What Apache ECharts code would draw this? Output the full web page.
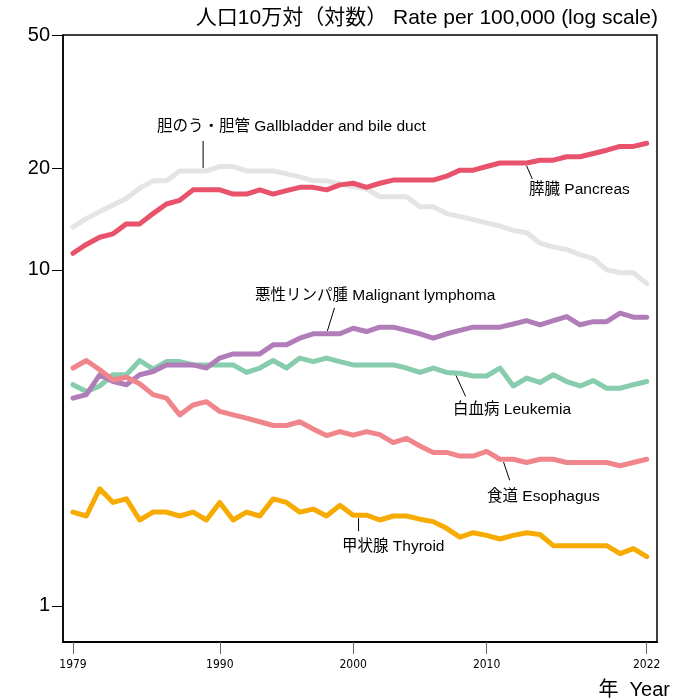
<!DOCTYPE html>
<html>
<head>
<meta charset="utf-8">
<script src="https://cdn.jsdelivr.net/npm/echarts@6/dist/echarts.min.js"></script>
<style>
  html, body { margin: 0; padding: 0; background: #fff; }
  #main { width: 684px; height: 700px; }
</style>
</head>
<body>
<div id="main"></div>
<script>
// 部位別がん死亡率（人口10万対、対数目盛）
const years = [1979, 1980, 1981, 1982, 1983, 1984, 1985, 1986, 1987, 1988,
  1989, 1990, 1991, 1992, 1993, 1994, 1995, 1996, 1997, 1998,
  1999, 2000, 2001, 2002, 2003, 2004, 2005, 2006, 2007, 2008,
  2009, 2010, 2011, 2012, 2013, 2014, 2015, 2016, 2017, 2018,
  2019, 2020, 2021, 2022]

const gallbladder = [13.4, 14.2, 14.9, 15.6, 16.3, 17.5, 18.4, 18.4, 19.7, 19.7,
  19.7, 20.3, 20.3, 19.7, 19.7, 19.7, 19.3, 18.9, 18.4, 18.4,
  18.0, 17.7, 17.4, 16.5, 16.5, 16.5, 15.4, 15.4, 14.7, 14.4,
  14.1, 13.8, 13.5, 13.1, 12.9, 12.0, 11.7, 11.5, 11.1, 10.8,
  10.0, 9.8, 9.8, 9.1]
const pancreas = [11.2, 11.9, 12.5, 12.8, 13.7, 13.7, 14.7, 15.7, 16.1, 17.3,
  17.3, 17.3, 16.8, 16.8, 17.3, 16.8, 17.2, 17.6, 17.6, 17.3,
  17.9, 18.1, 17.6, 18.1, 18.5, 18.5, 18.5, 18.5, 19.0, 19.8,
  19.8, 20.3, 20.8, 20.8, 20.8, 21.2, 21.2, 21.7, 21.7, 22.2,
  22.7, 23.3, 23.3, 23.8]
const lymphoma = [4.15, 4.25, 4.87, 4.65, 4.55, 4.87, 4.98, 5.21, 5.21, 5.21,
  5.10, 5.46, 5.62, 5.62, 5.62, 5.98, 5.98, 6.26, 6.45, 6.45,
  6.45, 6.70, 6.55, 6.75, 6.75, 6.60, 6.45, 6.26, 6.45, 6.60,
  6.75, 6.75, 6.75, 6.90, 7.06, 6.86, 7.06, 7.26, 6.86, 7.01,
  7.01, 7.43, 7.23, 7.23]
const leukemia = [4.55, 4.34, 4.51, 4.87, 4.87, 5.37, 5.06, 5.33, 5.33, 5.21,
  5.21, 5.21, 5.21, 4.95, 5.10, 5.37, 5.10, 5.46, 5.33, 5.46,
  5.33, 5.21, 5.21, 5.21, 5.21, 5.10, 4.95, 5.10, 4.95, 4.92,
  4.83, 4.83, 5.10, 4.51, 4.76, 4.62, 4.87, 4.65, 4.51, 4.68,
  4.44, 4.44, 4.55, 4.65]
const esophagus = [5.10, 5.37, 5.04, 4.70, 4.79, 4.58, 4.25, 4.15, 3.70, 3.96,
  4.05, 3.79, 3.70, 3.62, 3.53, 3.44, 3.44, 3.53, 3.36, 3.21,
  3.30, 3.22, 3.30, 3.23, 3.06, 3.15, 2.99, 2.86, 2.86, 2.79,
  2.79, 2.88, 2.73, 2.73, 2.67, 2.73, 2.73, 2.67, 2.67, 2.67,
  2.67, 2.61, 2.67, 2.73]
const thyroid = [1.90, 1.85, 2.23, 2.03, 2.08, 1.80, 1.90, 1.90, 1.85, 1.90,
  1.80, 2.03, 1.80, 1.90, 1.85, 2.08, 2.03, 1.90, 1.94, 1.85,
  1.99, 1.86, 1.86, 1.80, 1.85, 1.85, 1.81, 1.78, 1.70, 1.60,
  1.65, 1.62, 1.58, 1.62, 1.65, 1.63, 1.51, 1.51, 1.51, 1.51,
  1.51, 1.43, 1.48, 1.40]

const xTicks = [1979, 1990, 2000, 2010, 2022]
const yTicks = [1, 10, 20, 50]

const FONT = "'Liberation Sans', 'Noto Sans CJK JP', sans-serif"
const NARROW = "'Liberation Sans Narrow', 'DejaVu Sans Condensed', 'Liberation Sans', sans-serif"

// 描画順：下から
const seriesDefs = [
  { name: 'gallbladder', data: gallbladder, color: '#e4e4e4' },
  { name: 'leukemia', data: leukemia, color: '#86ccad' },
  { name: 'lymphoma', data: lymphoma, color: '#b07db9' },
  { name: 'esophagus', data: esophagus, color: '#f0868c' },
  { name: 'pancreas', data: pancreas, color: '#e8526b' },
  { name: 'thyroid', data: thyroid, color: '#f7ab00' }
]

// 注記：線上の点 at、引出線の向き d、文字の位置 t
const notes = [
  { text: '胆のう・胆管 Gallbladder and bile duct', at: [1988.75, 19.7], d: [0, -30], t: [157, 127] },
  { text: '膵臓 Pancreas', at: [2012.9, 20.8], d: [7, 16], t: [529, 190] },
  { text: '悪性リンパ腫 Malignant lymphoma', at: [1998, 6.45], d: [8, -26], t: [255, 296] },
  { text: '白血病 Leukemia', at: [2007.6, 4.95], d: [11, 24], t: [453, 410] },
  { text: '食道 Esophagus', at: [2011.2, 2.73], d: [7, 21], t: [487, 497] },
  { text: '甲状腺 Thyroid', at: [2000.4, 1.86], d: [0, 16], t: [342, 547] }
]

const chart = echarts.init(document.getElementById('main'))

chart.setOption({
  animation: false,
  grid: {
    left: 63, top: 35, right: 27, bottom: 58,
    show: true, borderColor: '#000', borderWidth: 1.5
  },
  xAxis: {
    type: 'value',
    min: 1978.25,
    max: 2022.77,
    axisLine: { show: true, lineStyle: { color: '#000', width: 2 } },
    axisTick: {
      customValues: xTicks, length: 12, inside: false,
      lineStyle: { color: '#666', width: 1 }
    },
    axisLabel: {
      customValues: xTicks, margin: 17,
      formatter: v => String(v),
      color: '#000', fontSize: 12, fontFamily: NARROW
    },
    splitLine: { show: false }
  },
  yAxis: {
    type: 'log',
    logBase: 10,
    min: 0.78,
    max: 50,
    axisLine: { show: true, lineStyle: { color: '#000', width: 1.5 } },
    axisTick: {
      customValues: yTicks, length: 11,
      lineStyle: { color: '#000', width: 1 }
    },
    axisLabel: {
      customValues: yTicks, margin: 13,
      formatter: v => String(v),
      color: '#000', fontSize: 20, fontFamily: FONT
    },
    splitLine: { show: false }
  },
  series: seriesDefs.map(s => ({
    name: s.name,
    type: 'line',
    data: years.map((y, i) => [y, s.data[i]]),
    showSymbol: false,
    symbol: 'none',
    silent: true,
    lineStyle: { color: s.color, width: 5, cap: 'round', join: 'round' }
  }))
})

const graphics = [
  {
    type: 'text', x: 658, y: 18.5,
    style: {
      text: '人口10万対（対数） Rate per 100,000 (log scale)', fill: '#000',
      font: '21px ' + FONT, align: 'right', verticalAlign: 'middle'
    }
  },
  {
    type: 'text', x: 670, y: 690,
    style: { text: '年  Year', fill: '#000', font: '20px ' + FONT, align: 'right', verticalAlign: 'middle' }
  }
]

notes.forEach(n => {
  const p = chart.convertToPixel({ gridIndex: 0 }, n.at)
  const len = Math.hypot(n.d[0], n.d[1])
  const off = 3 / len
  graphics.push({
    type: 'line',
    shape: {
      x1: p[0] + n.d[0] * off, y1: p[1] + n.d[1] * off,
      x2: p[0] + n.d[0], y2: p[1] + n.d[1]
    },
    style: { stroke: '#000', lineWidth: 1 }
  })
  graphics.push({
    type: 'text', x: n.t[0], y: n.t[1],
    style: { text: n.text, fill: '#000', font: '15.5px ' + FONT, verticalAlign: 'middle' }
  })
})

chart.setOption({ graphic: graphics })

window.addEventListener('resize', () => chart.resize())
</script>
</body>
</html>
